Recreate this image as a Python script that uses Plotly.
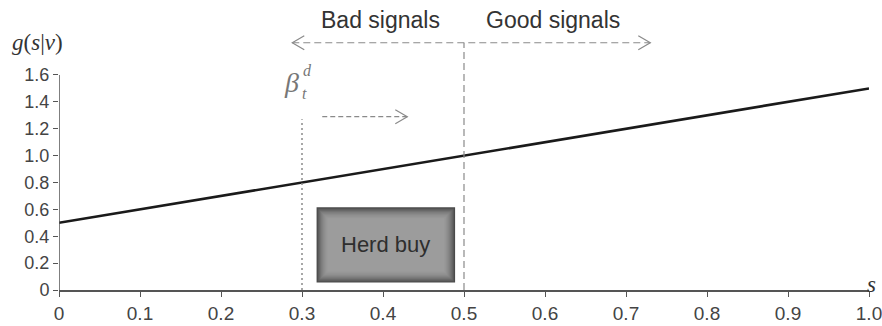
import plotly.graph_objects as go

# Density g(s|v): linear in the signal s
s_vals = [0.0, 1.0]
g_vals = [0.5, 1.5]

x_ticks = [0, 0.1, 0.2, 0.3, 0.4, 0.5, 0.6, 0.7, 0.8, 0.9, 1.0]
x_tick_text = ["0", "0.1", "0.2", "0.3", "0.4", "0.5", "0.6", "0.7", "0.8", "0.9", "1.0"]
y_ticks = [0, 0.2, 0.4, 0.6, 0.8, 1.0, 1.2, 1.4, 1.6]
y_tick_text = ["0", "0.2", "0.4", "0.6", "0.8", "1.0", "1.2", "1.4", "1.6"]

threshold = 0.3      # beta_t^d
midpoint = 0.5       # boundary between bad and good signals

W, H = 882, 326
ML, MR, MT, MB = 59, 13, 0, 36
PX_X = W - ML - MR            # pixels per unit of s
Y_MAX = 2.158
PX_Y = (H - MT - MB) / Y_MAX  # pixels per unit of g

AX = "#555555"
DASH = "#8a8a8a"
SANS = "Liberation Sans, Arial"
SERIF = "Liberation Serif, Times New Roman"

fig = go.Figure()
fig.add_trace(go.Scatter(x=s_vals, y=g_vals, mode="lines",
                         line=dict(color="#1a1a1a", width=2.6),
                         hoverinfo="skip", showlegend=False))

shapes = []

# y-axis line, ending at the top tick
shapes.append(dict(type="line", xref="x", yref="y", x0=0, x1=0, y0=0, y1=1.6,
                   line=dict(color=AX, width=1.5)))

# signal split: vertical dashed line at s = 0.5 and double-headed arrow
arrow_y = 1.84
left_end, right_end = 0.288, 0.73
shapes.append(dict(type="line", xref="x", yref="y", x0=midpoint, x1=midpoint,
                   y0=0, y1=arrow_y, line=dict(color=DASH, width=1.2, dash="7px,4px")))
shapes.append(dict(type="line", xref="x", yref="y", x0=left_end, x1=right_end,
                   y0=arrow_y, y1=arrow_y, line=dict(color=DASH, width=1.2, dash="7px,4px")))


def chevron(xtip, ytip, direction):
    dx = 12 / PX_X * direction
    dy = 7 / PX_Y
    return dict(type="path", xref="x", yref="y",
                path=f"M {xtip - dx},{ytip + dy} L {xtip},{ytip} L {xtip - dx},{ytip - dy}",
                line=dict(color=DASH, width=1.2))


shapes.append(chevron(left_end, arrow_y, -1))
shapes.append(chevron(right_end, arrow_y, 1))

# threshold: dotted vertical line and short arrow to the right
shapes.append(dict(type="line", xref="x", yref="y", x0=threshold, x1=threshold,
                   y0=0, y1=1.27, line=dict(color=DASH, width=1.5, dash="2px,3px")))
small_y = 1.29
shapes.append(dict(type="line", xref="x", yref="y", x0=0.325, x1=0.43,
                   y0=small_y, y1=small_y, line=dict(color=DASH, width=1.2, dash="5px,3px")))
shapes.append(chevron(0.43, small_y, 1))

# "Herd buy" bevelled box built from nested rectangles
bx0, bx1, by0, by1 = 0.318, 0.489, 0.055, 0.615
steps = ["#4a4a4a", "#595959", "#666666", "#717171", "#7b7b7b", "#838383",
         "#8a8a8a", "#909090", "#959595", "#999999", "#9c9c9c"]
for i, c in enumerate(steps):
    inset = i * 1.1
    shapes.append(dict(type="rect", xref="x", yref="y",
                       x0=bx0 + inset / PX_X, x1=bx1 - inset / PX_X,
                       y0=by0 + inset / PX_Y, y1=by1 - inset / PX_Y,
                       fillcolor=c, line=dict(width=0), layer="above"))

annotations = [
    dict(x=(bx0 + bx1) / 2, y=(by0 + by1) / 2, text="Herd buy", showarrow=False,
         font=dict(family=SANS, size=22, color="#2e2e2e")),
    dict(x=0.397, y=(H - MB - 20) / PX_Y, text="Bad signals", showarrow=False,
         font=dict(family=SANS, size=23, color="#333333")),
    dict(x=0.61, y=(H - MB - 20) / PX_Y, text="Good signals", showarrow=False,
         font=dict(family=SANS, size=23, color="#333333")),
    # axis titles
    dict(xref="paper", yref="paper", x=-59 / PX_X + 0.012, y=(H - MB - 43) / (H - MT - MB),
         xanchor="left", yanchor="middle", text="<i>g</i>(<i>s</i>|<i>v</i>)", showarrow=False,
         font=dict(family=SERIF, size=23, color="#333333")),
    dict(xref="paper", yref="paper", x=1.0 - 4 / PX_X, y=0.02, xanchor="left",
         yanchor="middle", text="<i>s</i>", showarrow=False,
         font=dict(family=SERIF, size=23, color="#333333")),
    # beta_t^d label
    dict(x=threshold - 1 / PX_X, y=1.545, xanchor="right", yanchor="middle",
         text="<i>β</i>", showarrow=False,
         font=dict(family=SERIF, size=28, color="#777777")),
    dict(x=threshold - 1 / PX_X, y=1.63, xanchor="left", yanchor="middle",
         text="<i>d</i>", showarrow=False,
         font=dict(family=SERIF, size=16, color="#777777")),
    dict(x=threshold - 2 / PX_X, y=1.465, xanchor="left", yanchor="middle",
         text="<i>t</i>", showarrow=False,
         font=dict(family=SERIF, size=16, color="#777777")),
]

fig.update_layout(
    width=W, height=H,
    margin=dict(l=ML, r=MR, t=MT, b=MB, pad=0),
    paper_bgcolor="white", plot_bgcolor="white",
    shapes=shapes, annotations=annotations,
    xaxis=dict(range=[0, 1.0], tickvals=x_ticks, ticktext=x_tick_text,
               showgrid=False, zeroline=False, showline=True, linecolor=AX, linewidth=1.5,
               ticks="outside", ticklen=5, tickwidth=1.3, tickcolor=AX,
               ticklabeloverflow="allow",
               tickfont=dict(family=SANS, size=19, color="#444444")),
    yaxis=dict(range=[0, Y_MAX], tickvals=y_ticks, ticktext=y_tick_text,
               showgrid=False, zeroline=False, showline=False,
               ticks="outside", ticklen=5, tickwidth=1.3, tickcolor=AX,
               tickfont=dict(family=SANS, size=18, color="#444444")),
)

fig.write_html("out.html")
